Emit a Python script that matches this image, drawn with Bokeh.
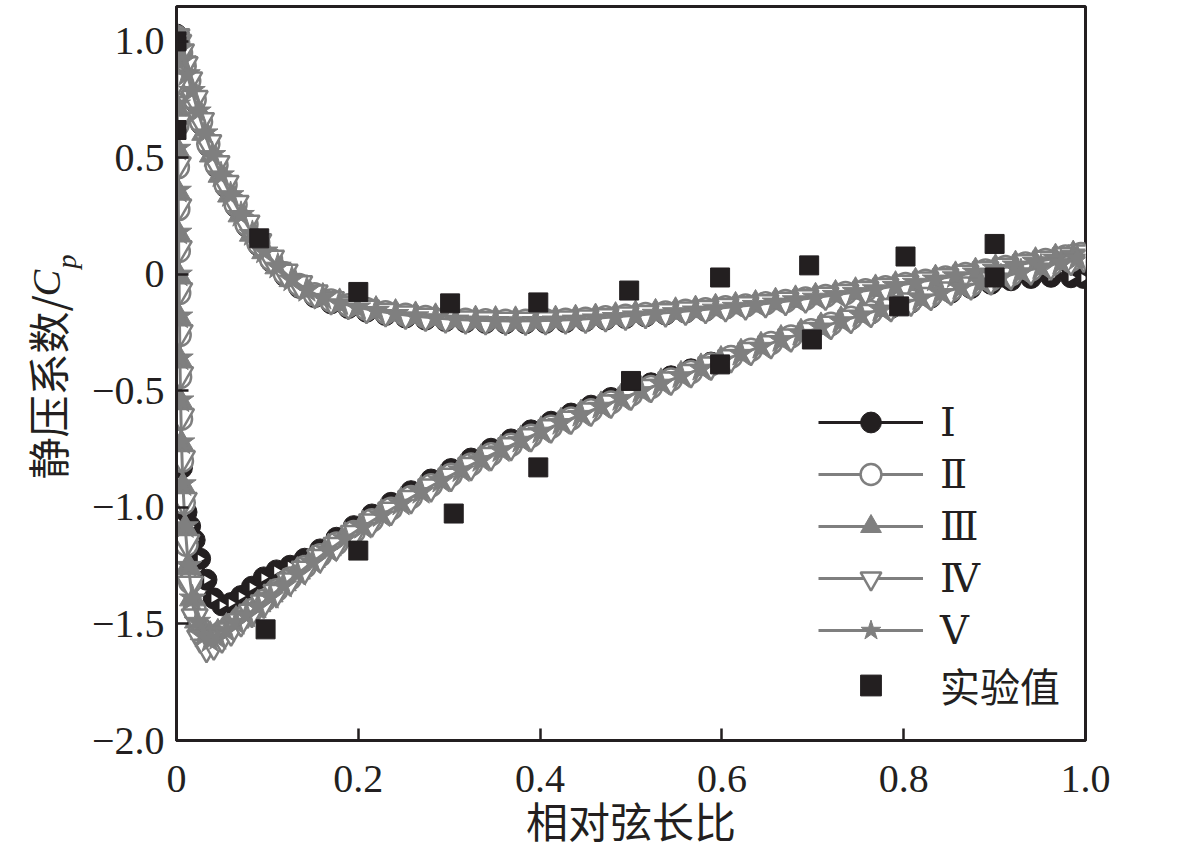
import math
from bokeh.plotting import figure
from bokeh.layouts import row
from bokeh.models import Range1d, FixedTicker, Legend, LegendItem
from bokeh.core.properties import value
from bokeh.embed import file_html
from bokeh.resources import INLINE

# ---------------- data ----------------
x_ticks = [0, 0.2, 0.4, 0.6, 0.8, 1.0]
x_tick_labels = ["0", "0.2", "0.4", "0.6", "0.8", "1.0"]
y_ticks = [-2.0, -1.5, -1.0, -0.5, 0, 0.5, 1.0]
y_tick_labels = ["−2.0", "−1.5", "−1.0", "−0.5", "0", "0.5", "1.0"]

series_names = ["Ⅰ", "Ⅱ", "Ⅲ", "Ⅳ", "Ⅴ"]
exp_name = "实验值"
x_label = "相对弦长比"
y_label_cn = "静压系数/"
y_label_sym = "C"
y_label_sub = "p"

# chord positions, grid A (series I, II, IV) and grid B (series III, V)
x_upper_a = [0.0, 0.002, 0.005, 0.009, 0.014, 0.02, 0.027, 0.035, 0.044, 0.054,
             0.065, 0.077, 0.09, 0.104, 0.119, 0.135, 0.152, 0.17, 0.189, 0.209,
             0.23, 0.252, 0.274, 0.296, 0.318, 0.34, 0.362, 0.384, 0.406, 0.428,
             0.45, 0.472, 0.494, 0.516, 0.538, 0.56, 0.582, 0.604, 0.626, 0.648,
             0.67, 0.692, 0.714, 0.736, 0.758, 0.78, 0.802, 0.824, 0.846, 0.868,
             0.89, 0.912, 0.934, 0.956, 0.978, 0.995]
x_upper_b = [0.0, 0.001, 0.0035, 0.007, 0.0115, 0.017, 0.0235, 0.031, 0.0395, 0.049,
             0.0595, 0.071, 0.0835, 0.097, 0.1115, 0.127, 0.1435, 0.161, 0.1795, 0.199,
             0.2195, 0.241, 0.263, 0.285, 0.307, 0.329, 0.351, 0.373, 0.395, 0.417,
             0.439, 0.461, 0.483, 0.505, 0.527, 0.549, 0.571, 0.593, 0.615, 0.637,
             0.659, 0.681, 0.703, 0.725, 0.747, 0.769, 0.791, 0.813, 0.835, 0.857,
             0.879, 0.901, 0.923, 0.945, 0.967, 0.9865]
x_lower_a = [0.0, 0.0005, 0.001, 0.0015, 0.002, 0.0025, 0.003, 0.0035, 0.004, 0.005,
             0.006, 0.008, 0.011, 0.015, 0.02, 0.026, 0.033, 0.041, 0.05, 0.06,
             0.071, 0.083, 0.096, 0.11, 0.125, 0.141, 0.158, 0.176, 0.195, 0.215,
             0.236, 0.258, 0.28, 0.302, 0.324, 0.346, 0.368, 0.39, 0.412, 0.434,
             0.456, 0.478, 0.5, 0.522, 0.544, 0.566, 0.588, 0.61, 0.632, 0.654,
             0.676, 0.698, 0.72, 0.742, 0.764, 0.786, 0.808, 0.83, 0.852, 0.874,
             0.896, 0.918, 0.94, 0.962, 0.984, 0.998]
x_lower_b = [0.0, 0.00025, 0.00075, 0.00125, 0.00175, 0.00225, 0.00275, 0.00325, 0.00375, 0.0045,
             0.0055, 0.007, 0.0095, 0.013, 0.0175, 0.023, 0.0295, 0.037, 0.0455, 0.055,
             0.0655, 0.077, 0.0895, 0.103, 0.1175, 0.133, 0.1495, 0.167, 0.1855, 0.205,
             0.2255, 0.247, 0.269, 0.291, 0.313, 0.335, 0.357, 0.379, 0.401, 0.423,
             0.445, 0.467, 0.489, 0.511, 0.533, 0.555, 0.577, 0.599, 0.621, 0.643,
             0.665, 0.687, 0.709, 0.731, 0.753, 0.775, 0.797, 0.819, 0.841, 0.863,
             0.885, 0.907, 0.929, 0.951, 0.973, 0.991]

cp_upper_1 = [1.03, 0.99, 0.945, 0.89, 0.82, 0.74, 0.645, 0.55, 0.46, 0.375,
              0.29, 0.205, 0.125, 0.055, -0.007, -0.057, -0.097, -0.124, -0.144, -0.16,
              -0.174, -0.185, -0.194, -0.2, -0.205, -0.208, -0.21, -0.21, -0.208, -0.205,
              -0.2, -0.194, -0.187, -0.18, -0.172, -0.164, -0.156, -0.147, -0.138, -0.128,
              -0.118, -0.107, -0.095, -0.083, -0.071, -0.058, -0.044, -0.03, -0.016, -0.002,
              0.012, 0.026, 0.04, 0.05, 0.058, 0.062]
cp_upper_2 = [1.02, 0.99, 0.95, 0.895, 0.83, 0.75, 0.655, 0.56, 0.47, 0.385,
              0.30, 0.215, 0.135, 0.065, 0.005, -0.045, -0.085, -0.112, -0.132, -0.148,
              -0.162, -0.173, -0.182, -0.189, -0.194, -0.197, -0.199, -0.199, -0.197, -0.194,
              -0.19, -0.184, -0.177, -0.17, -0.163, -0.156, -0.149, -0.141, -0.133, -0.124,
              -0.114, -0.103, -0.092, -0.08, -0.068, -0.055, -0.041, -0.027, -0.013, 0.002,
              0.017, 0.032, 0.047, 0.062, 0.077, 0.088]
cp_upper_3 = [1.02, 1.005, 0.97, 0.923, 0.863, 0.79, 0.703, 0.608, 0.515, 0.428,
              0.343, 0.258, 0.175, 0.1, 0.035, -0.02, -0.065, -0.099, -0.122, -0.14,
              -0.155, -0.168, -0.178, -0.186, -0.192, -0.196, -0.198, -0.199, -0.198, -0.196,
              -0.192, -0.187, -0.181, -0.174, -0.167, -0.16, -0.153, -0.145, -0.137, -0.129,
              -0.119, -0.109, -0.098, -0.086, -0.074, -0.062, -0.048, -0.034, -0.02, -0.006,
              0.01, 0.025, 0.04, 0.055, 0.07, 0.083]
cp_upper_4 = [1.02, 0.995, 0.955, 0.9, 0.835, 0.755, 0.66, 0.565, 0.475, 0.39,
              0.305, 0.22, 0.14, 0.07, 0.01, -0.04, -0.08, -0.108, -0.128, -0.145,
              -0.159, -0.17, -0.179, -0.186, -0.191, -0.194, -0.196, -0.196, -0.194, -0.191,
              -0.187, -0.181, -0.174, -0.167, -0.16, -0.153, -0.146, -0.138, -0.13, -0.121,
              -0.111, -0.1, -0.089, -0.077, -0.065, -0.052, -0.038, -0.024, -0.01, 0.005,
              0.02, 0.035, 0.05, 0.065, 0.08, 0.092]
cp_upper_5 = [1.03, 1.0, 0.968, 0.92, 0.86, 0.788, 0.7, 0.606, 0.513, 0.426,
              0.341, 0.256, 0.174, 0.099, 0.034, -0.021, -0.066, -0.1, -0.123, -0.141,
              -0.156, -0.169, -0.179, -0.187, -0.193, -0.197, -0.199, -0.2, -0.199, -0.197,
              -0.193, -0.188, -0.182, -0.175, -0.168, -0.161, -0.154, -0.146, -0.138, -0.13,
              -0.12, -0.11, -0.099, -0.087, -0.075, -0.063, -0.049, -0.035, -0.021, -0.007,
              0.009, 0.024, 0.039, 0.054, 0.069, 0.084]

cp_lower_1 = [1.02, 0.84, 0.66, 0.48, 0.3, 0.116, -0.06, -0.24, -0.42, -0.59,
              -0.83, -0.95, -1.02, -1.08, -1.14, -1.22, -1.31, -1.39, -1.42, -1.41,
              -1.38, -1.34, -1.3, -1.27, -1.25, -1.22, -1.18, -1.13, -1.08, -1.03,
              -0.98, -0.93, -0.88, -0.835, -0.79, -0.748, -0.708, -0.669, -0.632, -0.597,
              -0.563, -0.53, -0.498, -0.467, -0.437, -0.407, -0.378, -0.35, -0.323, -0.297,
              -0.27, -0.244, -0.218, -0.193, -0.168, -0.144, -0.121, -0.099, -0.078, -0.058,
              -0.04, -0.025, -0.015, -0.01, -0.012, -0.015]
cp_lower_2 = [1.0, 0.82, 0.64, 0.46, 0.28, 0.1, -0.08, -0.26, -0.44, -0.62,
              -0.8, -0.98, -1.16, -1.32, -1.44, -1.52, -1.56, -1.56, -1.535, -1.505,
              -1.475, -1.44, -1.4, -1.355, -1.305, -1.255, -1.205, -1.155, -1.105, -1.055,
              -1.005, -0.955, -0.905, -0.86, -0.815, -0.772, -0.731, -0.692, -0.654, -0.618,
              -0.583, -0.549, -0.516, -0.483, -0.451, -0.419, -0.386, -0.354, -0.323, -0.294,
              -0.266, -0.239, -0.212, -0.186, -0.161, -0.136, -0.112, -0.089, -0.066, -0.044,
              -0.022, 0.0, 0.021, 0.042, 0.062, 0.075]
cp_lower_3 = [1.0, 0.9, 0.71, 0.53, 0.35, 0.17, -0.01, -0.19, -0.37, -0.55,
              -0.73, -0.91, -1.09, -1.255, -1.39, -1.485, -1.535, -1.55, -1.54, -1.515,
              -1.485, -1.453, -1.415, -1.373, -1.325, -1.275, -1.225, -1.175, -1.125, -1.075,
              -1.025, -0.975, -0.926, -0.88, -0.835, -0.791, -0.75, -0.71, -0.671, -0.634,
              -0.599, -0.564, -0.531, -0.498, -0.465, -0.433, -0.401, -0.369, -0.338, -0.308,
              -0.279, -0.252, -0.225, -0.198, -0.173, -0.148, -0.123, -0.1, -0.077, -0.054,
              -0.032, -0.01, 0.012, 0.033, 0.053, 0.07]
cp_lower_4 = [1.0, 0.83, 0.65, 0.47, 0.29, 0.11, -0.07, -0.25, -0.43, -0.61,
              -0.79, -0.97, -1.15, -1.33, -1.47, -1.56, -1.6, -1.59, -1.56, -1.53,
              -1.49, -1.45, -1.41, -1.365, -1.315, -1.265, -1.215, -1.163, -1.112, -1.062,
              -1.012, -0.962, -0.912, -0.866, -0.82, -0.777, -0.735, -0.696, -0.658, -0.621,
              -0.586, -0.552, -0.518, -0.485, -0.453, -0.421, -0.389, -0.357, -0.326, -0.297,
              -0.268, -0.241, -0.214, -0.188, -0.163, -0.138, -0.114, -0.09, -0.067, -0.045,
              -0.023, -0.001, 0.02, 0.041, 0.061, 0.074]
cp_lower_5 = [1.02, 0.92, 0.73, 0.54, 0.36, 0.18, 0.0, -0.18, -0.36, -0.54,
              -0.72, -0.9, -1.08, -1.25, -1.39, -1.49, -1.55, -1.57, -1.56, -1.528,
              -1.495, -1.463, -1.425, -1.383, -1.335, -1.285, -1.235, -1.184, -1.133, -1.083,
              -1.033, -0.983, -0.933, -0.885, -0.84, -0.796, -0.754, -0.713, -0.674, -0.637,
              -0.602, -0.567, -0.534, -0.5, -0.468, -0.436, -0.404, -0.371, -0.34, -0.31,
              -0.281, -0.254, -0.227, -0.2, -0.175, -0.15, -0.125, -0.102, -0.079, -0.056,
              -0.034, -0.012, 0.01, 0.031, 0.051, 0.069]

exp_x = [0.0, 0.0, 0.091, 0.2, 0.301, 0.398, 0.498, 0.598, 0.696, 0.802, 0.9,
         0.098, 0.2, 0.305, 0.398, 0.5, 0.598, 0.699, 0.795, 0.9]
exp_cp = [1.0, 0.62, 0.155, -0.075, -0.124, -0.12, -0.069, -0.013, 0.039, 0.077, 0.131,
          -1.523, -1.185, -1.026, -0.828, -0.457, -0.386, -0.279, -0.137, -0.013]

# ---------------- styling ----------------
BLACK = "#231f20"
GRAY = "#7f7f7f"
SERIF = "Liberation Serif"
CJK = "Noto Sans CJK SC"
H = 853
LW = 86            # width of the y-title strip
W_MAIN = 1074
FRAME_TOP = 6
FRAME_BOTTOM = 740

p = figure(width=W_MAIN, height=H, output_backend="svg", toolbar_location=None,
           x_range=Range1d(0.0, 1.0), y_range=Range1d(-2.0, 1.15),
           min_border_left=90, min_border_right=W_MAIN - 90 - 909, min_border_top=FRAME_TOP,
           min_border_bottom=H - FRAME_BOTTOM)
p.background_fill_color = "white"
p.border_fill_color = "white"
p.grid.visible = False
p.outline_line_color = BLACK
p.outline_line_width = 3

for ax in (p.xaxis[0], p.yaxis[0]):
    ax.axis_line_color = BLACK
    ax.axis_line_width = 3
    ax.major_tick_line_color = BLACK
    ax.major_tick_line_width = 2.5
    ax.major_tick_in = 12
    ax.major_tick_out = 0
    ax.minor_tick_line_color = None
    ax.major_label_text_font = SERIF
    ax.major_label_text_font_size = "40px"
    ax.major_label_text_color = BLACK

p.xaxis.ticker = FixedTicker(ticks=x_ticks)
p.yaxis.ticker = FixedTicker(ticks=y_ticks)
p.xaxis.major_label_overrides = dict(zip(x_ticks, x_tick_labels))
p.yaxis.major_label_overrides = dict(zip(y_ticks, y_tick_labels))
p.xaxis.major_label_standoff = 25
p.yaxis.major_label_standoff = 12

p.xaxis.axis_label = x_label
p.xaxis.axis_label_text_font = CJK
p.xaxis.axis_label_text_font_style = "normal"
p.xaxis.axis_label_text_font_size = "42px"
p.xaxis.axis_label_text_color = BLACK
p.xaxis.axis_label_standoff = -6


def loop(xu, xl, upper, lower):
    return xu[::-1] + xl, upper[::-1] + lower


items = []
# series I : black circle with white notch
xs, ys = loop(x_upper_a, x_lower_a, cp_upper_1, cp_lower_1)
l1 = p.line(xs, ys, line_color=BLACK, line_width=3)
m1 = p.scatter(xs, ys, marker="circle", size=21, fill_color=BLACK, line_color=BLACK, line_width=1)
p.scatter(xs, ys, marker="triangle", size=8, angle=-math.pi / 2, fill_color="white", line_color=None)
items.append(LegendItem(label=series_names[0], renderers=[l1, m1]))

# series II : open circle
xs, ys = loop(x_upper_a, x_lower_a, cp_upper_2, cp_lower_2)
l2 = p.line(xs, ys, line_color=GRAY, line_width=3)
m2 = p.scatter(xs, ys, marker="circle", size=22, fill_color="white", line_color=GRAY, line_width=2.5)
items.append(LegendItem(label=series_names[1], renderers=[l2, m2]))

# series III : filled triangle
xs, ys = loop(x_upper_b, x_lower_b, cp_upper_3, cp_lower_3)
l3 = p.line(xs, ys, line_color=GRAY, line_width=3)
m3 = p.scatter(xs, ys, marker="triangle", size=26, fill_color=GRAY, line_color=GRAY, line_width=1)
items.append(LegendItem(label=series_names[2], renderers=[l3, m3]))

# series IV : open inverted triangle
xs, ys = loop(x_upper_a, x_lower_a, cp_upper_4, cp_lower_4)
l4 = p.line(xs, ys, line_color=GRAY, line_width=3)
m4 = p.scatter(xs, ys, marker="inverted_triangle", size=26, fill_color="white", line_color=GRAY, line_width=2.5)
items.append(LegendItem(label=series_names[3], renderers=[l4, m4]))

# series V : star
xs, ys = loop(x_upper_b, x_lower_b, cp_upper_5, cp_lower_5)
l5 = p.line(xs, ys, line_color=GRAY, line_width=3)
m5 = p.scatter(xs, ys, marker="star", size=28, fill_color=GRAY, line_color=GRAY, line_width=1)
items.append(LegendItem(label=series_names[4], renderers=[l5, m5]))

# experiment
me = p.scatter(exp_x, exp_cp, marker="square", size=19, fill_color=BLACK, line_color=BLACK)
items.append(LegendItem(label=exp_name, renderers=[me]))

legend = Legend(items=items, location=(642, 26), orientation="vertical",
                glyph_width=105, glyph_height=52, label_height=52, spacing=0,
                label_standoff=17, padding=0, margin=0,
                border_line_color=None, background_fill_alpha=0,
                label_text_font="DejaVu Serif, " + CJK, label_text_font_size="40px",
                label_text_color=BLACK)
p.add_layout(legend, "center")

# ---------------- y title strip ----------------
# The strip's frame is aligned with the main frame (rows 6..740); its y range is
# set so that a y value equals the page row, the x range so that x equals the column.
t = figure(width=LW, height=H, output_backend="svg", toolbar_location=None,
           x_axis_type=None, y_axis_type=None,
           x_range=Range1d(0, LW), y_range=Range1d(FRAME_BOTTOM, FRAME_TOP),
           min_border=0, min_border_left=0, min_border_right=0,
           min_border_top=FRAME_TOP, min_border_bottom=H - FRAME_BOTTOM)
t.grid.visible = False
t.outline_line_color = None
t.background_fill_color = "white"
t.border_fill_color = "white"
t.text(x=[46], y=[479], text=[y_label_cn], angle=math.pi / 2,
       text_font=value(CJK), text_font_size="42px", text_color=BLACK,
       text_align="left", text_baseline="middle")
t.text(x=[46], y=[296], text=[y_label_sym], angle=math.pi / 2,
       text_font=value(SERIF), text_font_style="italic", text_font_size="40px",
       text_color=BLACK, text_align="left", text_baseline="middle")
t.text(x=[66], y=[268], text=[y_label_sub], angle=math.pi / 2,
       text_font=value(SERIF), text_font_style="italic", text_font_size="28px",
       text_color=BLACK, text_align="left", text_baseline="middle")

layout = row(t, p)
open("out.html", "w").write(file_html(layout, INLINE))
